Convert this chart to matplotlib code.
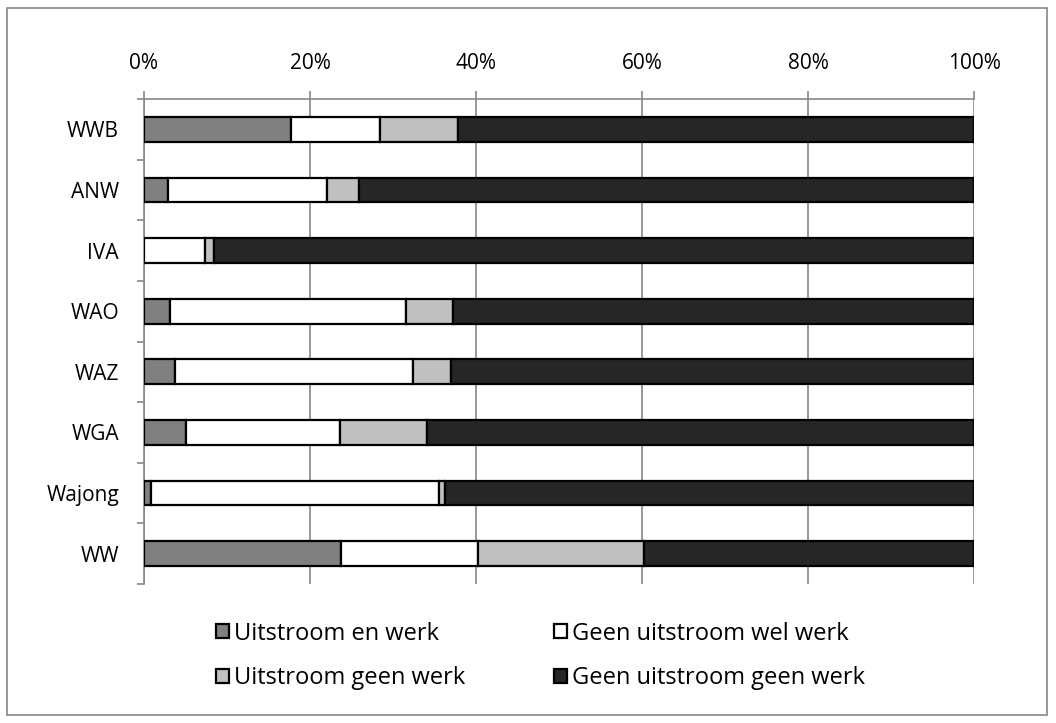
import numpy as np
import matplotlib
matplotlib.use("Agg")
from matplotlib import pyplot as plt
from matplotlib.patches import Rectangle

plt.rcParams['font.family'] = ['Open Sans', 'DejaVu Sans']

categories = ["WWB", "ANW", "IVA", "WAO", "WAZ", "WGA", "Wajong", "WW"]
uitstroom_werk = [17.7, 2.9, 0.0, 3.1, 3.7, 5.1, 0.9, 23.7]
geen_uitstroom_wel_werk = [10.7, 19.2, 7.4, 28.5, 28.7, 18.5, 34.7, 16.6]
uitstroom_geen_werk = [9.4, 3.8, 1.0, 5.6, 4.6, 10.5, 0.7, 19.9]
geen_uitstroom_geen_werk = [62.2, 74.1, 91.6, 62.8, 63.0, 65.9, 63.7, 39.8]

series = [
    ("Uitstroom en werk", uitstroom_werk, "#808080"),
    ("Geen uitstroom wel werk", geen_uitstroom_wel_werk, "#ffffff"),
    ("Uitstroom geen werk", uitstroom_geen_werk, "#c0c0c0"),
    ("Geen uitstroom geen werk", geen_uitstroom_geen_werk, "#262626"),
]

fig = plt.figure(figsize=(10.56, 7.23), dpi=100)
fig.patches.append(Rectangle((7 / 1056, 8 / 723), 1040 / 1056, 707 / 723,
                             transform=fig.transFigure, fill=False,
                             edgecolor="#868686", linewidth=1.2))
ax = fig.add_axes([144 / 1056, 1 - 584 / 723, 830 / 1056, 485 / 723])

y = np.arange(len(categories))
tot = np.sum([s[1] for s in series], axis=0)
left = np.zeros(len(categories))
handles = []
for name, vals, col in series:
    w = np.array(vals) / tot
    h = ax.barh(y, w, left=left, height=0.41, color=col, edgecolor="black",
                linewidth=1.6, label=name, zorder=3)
    handles.append(h)
    left += w

ax.set_xlim(0, 1)
ax.set_ylim(len(categories) - 0.5, -0.5)
ax.set_xticks(np.linspace(0, 1, 6))
ax.set_xticklabels(["0%", "20%", "40%", "60%", "80%", "100%"], fontsize=15)
ax.xaxis.tick_top()
ax.tick_params(axis="x", length=5.8, width=1.2, color="#868686", pad=12)
ax.grid(True, axis="x", color="#868686", linewidth=1.2, zorder=0)

ax.set_yticks(y)
ax.set_yticklabels(categories, fontsize=15)
ax.set_yticks(np.arange(len(categories) + 1) - 0.5, minor=True)
ax.tick_params(axis="y", which="major", length=0, pad=18)
ax.tick_params(axis="y", which="minor", length=5, width=1.2, color="#868686")

for s in ["right", "bottom"]:
    ax.spines[s].set_visible(False)
for s in ["left", "top"]:
    ax.spines[s].set_color("#868686")
    ax.spines[s].set_linewidth(1.2)

legend_kw = dict(loc="center left", frameon=False, fontsize=17, handlelength=0.55,
                 handleheight=0.55, handletextpad=0.22, labelspacing=0.88,
                 borderpad=0, borderaxespad=0)
leg1 = fig.legend([handles[0], handles[2]], [series[0][0], series[2][0]],
                  bbox_to_anchor=(216 / 1056, 1 - 656 / 723), **legend_kw)
leg2 = fig.legend([handles[1], handles[3]], [series[1][0], series[3][0]],
                  bbox_to_anchor=(554 / 1056, 1 - 656 / 723), **legend_kw)

fig.savefig("out.png", dpi=100)
